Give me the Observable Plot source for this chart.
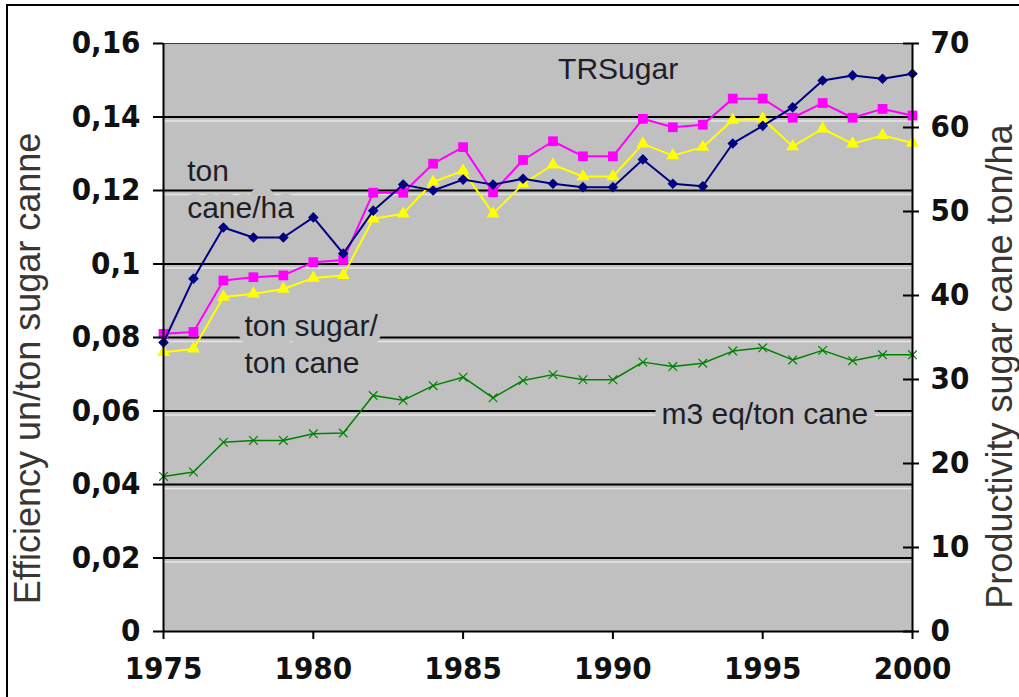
<!DOCTYPE html>
<html><head><meta charset="utf-8">
<script src="https://cdn.jsdelivr.net/npm/d3@7"></script>
<script src="https://cdn.jsdelivr.net/npm/@observablehq/plot@0.6"></script>
<style>
html,body{margin:0;padding:0;background:#fff;}
#wrap{position:relative;width:1019px;height:697px;overflow:hidden;}
#wrap svg{position:absolute;left:0;top:0;}
#border{position:absolute;left:6px;top:4px;right:-10px;bottom:-10px;border-left:2px solid #000;border-top:2px solid #000;pointer-events:none;}
</style></head><body><div id="wrap"><div id="border"></div></div>
<script>
// ---- data ----
const years = [1975,1976,1977,1978,1979,1980,1981,1982,1983,1984,1985,1986,1987,1988,1989,1990,1991,1992,1993,1994,1995,1996,1997,1998,1999,2000];
// ton cane / ha (right axis, ton/ha)
const caneHa = [34.4,42.0,48.1,46.9,46.9,49.3,45.0,50.1,53.2,52.5,53.8,53.2,53.9,53.3,52.9,52.9,56.2,53.3,53.0,58.1,60.2,62.4,65.6,66.2,65.8,66.4];
// TRSugar (left axis)
const trSugar = [0.0810,0.0815,0.0955,0.0964,0.0969,0.1005,0.1011,0.1194,0.1194,0.1273,0.1318,0.1195,0.1283,0.1334,0.1293,0.1293,0.1395,0.1372,0.1379,0.1450,0.1450,0.1398,0.1438,0.1398,0.1422,0.1404];
// ton sugar / ton cane (left axis)
const sugarCane = [0.0760,0.0769,0.0910,0.0919,0.0932,0.0962,0.0969,0.1123,0.1137,0.1223,0.1254,0.1137,0.1218,0.1270,0.1238,0.1238,0.1327,0.1295,0.1318,0.1392,0.1395,0.1320,0.1368,0.1327,0.1350,0.1329];
// m3 eq / ton cane (left axis)
const m3Cane = [0.0422,0.0434,0.0515,0.0520,0.0520,0.0538,0.0540,0.0642,0.0629,0.0669,0.0692,0.0636,0.0683,0.0699,0.0685,0.0685,0.0733,0.0721,0.0730,0.0763,0.0772,0.0739,0.0765,0.0737,0.0753,0.0753];

const xTicks = [1975,1980,1985,1990,1995,2000];
const xTickLabels = ["1975","1980","1985","1990","1995","2000"];
const leftTicks = [0,0.02,0.04,0.06,0.08,0.1,0.12,0.14,0.16];
const leftTickLabels = ["0","0,02","0,04","0,06","0,08","0,1","0,12","0,14","0,16"];
const rightTicks = [0,10,20,30,40,50,60,70];
const rightTickLabels = ["0","10","20","30","40","50","60","70"];
const gridValues = [0.02,0.04,0.06,0.08,0.1,0.12,0.14];

const leftTitle = "Efficiency un/ton sugar canne";
const rightTitle = "Productivity sugar cane ton/ha";
const annotations = [
  {text: "TRSugar", x: 1988.17, y: 0.1535},
  {text: "ton\ncane/ha", x: 1975.79, y: 0.1208},
  {text: "ton sugar/\nton cane", x: 1977.7, y: 0.0786},
  {text: "m3 eq/ton cane", x: 1991.62, y: 0.0596}
];

// ---- build ----
const K = 0.16 / 70; // right-axis unit -> left-axis unit
const rows = years.map((year, i) => ({year, cane: caneHa[i] * K, tr: trSugar[i], sugar: sugarCane[i], m3: m3Cane[i]}));
const rightTickPos = rightTicks.map(v => v * K);

const tickFont = "'Liberation Sans Narrow','DejaVu Sans Condensed','Arial Narrow',sans-serif";
const textFont = "'Liberation Sans',Arial,sans-serif";
const plotGray = "#c0c0c0";

const chart = Plot.plot({
  width: 1019, height: 697,
  marginLeft: 163, marginRight: 107, marginTop: 43, marginBottom: 66,
  x: {domain: [1975, 2000], axis: null},
  y: {domain: [0, 0.16], axis: null},
  style: {background: "transparent", fontFamily: textFont, overflow: "visible"},
  marks: [
    Plot.frame({fill: plotGray, stroke: null}),
    Plot.ruleY(gridValues, {stroke: "#e6e6e6", strokeWidth: 1.5, dy: 4}),
    Plot.ruleY(gridValues, {stroke: "#000", strokeWidth: 2}),
    Plot.ruleY([0.16], {stroke: "#3a3a3a", strokeWidth: 1}),
    Plot.text(annotations, {x: "x", y: "y", text: "text", textAnchor: "start", fontSize: 30, lineHeight: 1.22,
      fill: "#1e1e28", stroke: plotGray, strokeWidth: 16, strokeLinejoin: "round"}),
    Plot.line(rows, {x: "year", y: "m3", stroke: "#008000", strokeWidth: 1.5}),
    Plot.dot(rows, {x: "year", y: "m3", symbol: "times", r: 4, stroke: "#008000", strokeWidth: 1.2}),
    Plot.line(rows, {x: "year", y: "sugar", stroke: "#ffff00", strokeWidth: 2}),
    Plot.dot(rows, {x: "year", y: "sugar", symbol: "triangle", r: 4.8, fill: "#ffff00"}),
    Plot.line(rows, {x: "year", y: "tr", stroke: "#ff00ff", strokeWidth: 2}),
    Plot.dot(rows, {x: "year", y: "tr", symbol: "square", r: 5.5, fill: "#ff00ff"}),
    Plot.line(rows, {x: "year", y: "cane", stroke: "#000080", strokeWidth: 2}),
    Plot.dot(rows, {x: "year", y: "cane", symbol: "diamond2", r: 4.8, fill: "#000080"}),
    Plot.ruleX([1975, 2000], {stroke: "#000", strokeWidth: 2}),
    Plot.ruleY([0], {stroke: "#000", strokeWidth: 2}),
    Plot.axisY({anchor: "left", ticks: leftTicks, tickFormat: d => leftTickLabels[leftTicks.indexOf(d)],
      tickSize: 10, tickPadding: 13, strokeWidth: 2, fontSize: 31, fontWeight: "bold", fontFamily: tickFont, fill: "#111", label: null}),
    Plot.axisY({anchor: "right", ticks: rightTickPos, tickFormat: d => rightTickLabels[rightTickPos.indexOf(d)],
      tickSize: 6, tickPadding: 12, strokeWidth: 2, fontSize: 31, fontWeight: "bold", fontFamily: tickFont, fill: "#111", label: null}),
    Plot.axisY({anchor: "right", ticks: rightTickPos, text: null, tickSize: 10, dx: -10, strokeWidth: 2, label: null}),
    Plot.axisX({anchor: "bottom", ticks: xTicks, tickFormat: d => xTickLabels[xTicks.indexOf(d)],
      tickSize: 8, tickPadding: 17, strokeWidth: 2, fontSize: 31, fontWeight: "bold", fontFamily: tickFont, fill: "#111", label: null}),
    Plot.text([leftTitle], {frameAnchor: "left", textAnchor: "middle", lineAnchor: "middle", rotate: -90, dx: -135, dy: 31, fontSize: 36, fill: "#3a3530"}),
    Plot.text([rightTitle], {frameAnchor: "right", textAnchor: "middle", lineAnchor: "middle", rotate: -90, dx: 88, dy: 29, fontSize: 36, fill: "#3a3530"})
  ]
});
document.getElementById("wrap").prepend(chart);
</script>
</body></html>
